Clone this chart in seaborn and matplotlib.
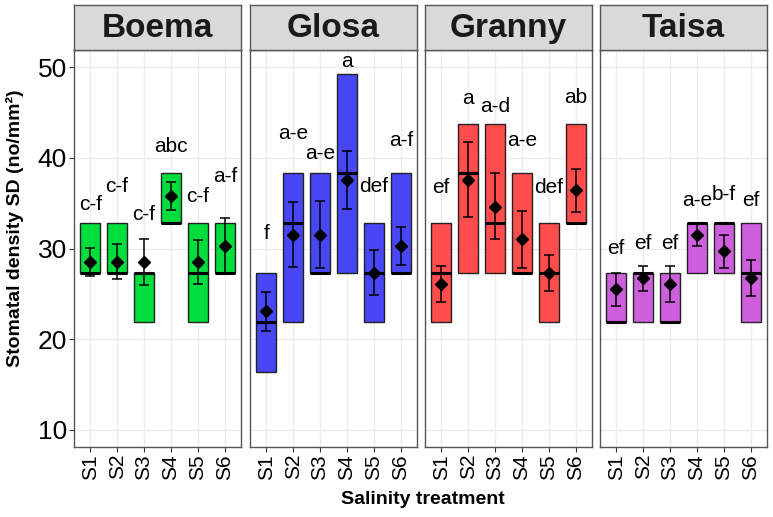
import numpy as np
import seaborn as sns
import matplotlib.pyplot as plt

# facet / category names
cultivars = ['Boema', 'Glosa', 'Granny', 'Taisa']
treatments = ['S1', 'S2', 'S3', 'S4', 'S5', 'S6']
colors = ['#00DD3C', '#4747F5', '#FF4C4C', '#CD5FDD']

# box limits (Q1, median, Q3) per cultivar, S1..S6
q1 = [[27.3, 27.3, 21.9, 32.8, 21.9, 27.3],
      [16.4, 21.9, 27.3, 27.3, 21.9, 27.3],
      [21.9, 27.3, 27.3, 27.3, 21.9, 32.8],
      [21.9, 21.9, 21.9, 27.3, 27.3, 21.9]]
median = [[27.3, 27.3, 27.3, 32.8, 27.3, 27.3],
          [21.9, 32.8, 27.3, 38.3, 27.3, 27.3],
          [27.3, 38.3, 32.8, 27.3, 27.3, 32.8],
          [21.9, 27.3, 21.9, 32.8, 32.8, 27.3]]
q3 = [[32.8, 32.8, 27.3, 38.3, 32.8, 32.8],
      [27.3, 38.3, 38.3, 49.2, 32.8, 38.3],
      [32.8, 43.7, 43.7, 38.3, 32.8, 43.7],
      [27.3, 27.3, 27.3, 32.8, 32.8, 32.8]]

# mean and error bar ends
mean = [[28.5, 28.5, 28.5, 35.8, 28.5, 30.3],
        [23.1, 31.5, 31.5, 37.6, 27.3, 30.3],
        [26.1, 37.6, 34.6, 31.0, 27.3, 36.4],
        [25.5, 26.7, 26.1, 31.5, 29.7, 26.7]]
err_lo = [[27.0, 26.6, 26.0, 34.2, 26.1, 27.3],
          [20.9, 28.0, 27.8, 34.4, 24.9, 28.2],
          [24.1, 33.5, 31.0, 27.8, 25.3, 34.0],
          [23.7, 25.3, 24.1, 30.3, 27.9, 24.8]]
err_hi = [[30.1, 30.5, 31.1, 37.3, 30.9, 33.4],
          [25.2, 35.1, 35.2, 40.8, 29.8, 32.4],
          [28.1, 41.7, 38.3, 34.1, 29.3, 38.8],
          [27.3, 28.1, 28.1, 32.8, 31.5, 28.7]]

# significance letters and their heights
letters = [['c-f', 'c-f', 'c-f', 'abc', 'c-f', 'a-f'],
           ['f', 'a-e', 'a-e', 'a', 'def', 'a-f'],
           ['ef', 'a', 'a-d', 'a-e', 'def', 'ab'],
           ['ef', 'ef', 'ef', 'a-e', 'b-f', 'ef']]
letter_y = [[34.9, 36.8, 33.8, 41.2, 35.7, 37.9],
            [31.6, 42.7, 40.5, 50.6, 36.8, 41.9],
            [36.7, 46.5, 45.7, 41.9, 36.7, 46.7],
            [30.0, 30.5, 30.5, 35.3, 36.0, 35.3]]

sns.set_theme(style='whitegrid')
plt.rcParams['font.family'] = ['Liberation Sans', 'DejaVu Sans']
plt.rcParams['text.color'] = 'black'

W, H = 773, 517
fig = plt.figure(figsize=(W / 100, H / 100), dpi=100)

panel_left = [74, 250, 425, 600]
panel_w = 167
panel_top, panel_bot = 50, 447
strip_top = 5
x = np.arange(len(treatments))

for i, cv in enumerate(cultivars):
    ax = fig.add_axes([panel_left[i] / W, (H - panel_bot) / H,
                       panel_w / W, (panel_bot - panel_top) / H])
    ax.set_facecolor('white')
    ax.grid(True, color='#EBEBEB', linewidth=0.9)
    ax.set_axisbelow(True)

    bottoms = np.array(q1[i])
    heights = np.array(q3[i]) - bottoms
    ax.bar(x, heights, bottom=bottoms, width=0.75, color=colors[i],
           edgecolor='#222222', linewidth=1.0, zorder=2)
    ax.hlines(median[i], x - 0.375, x + 0.375, color='black', linewidth=2.2, zorder=3)
    m = np.array(mean[i])
    ax.errorbar(x, m, yerr=[m - np.array(err_lo[i]), np.array(err_hi[i]) - m],
                fmt='D', color='black', markersize=6.5, elinewidth=1.1,
                capsize=3.8, capthick=1.1, zorder=4)
    for j, lab in enumerate(letters[i]):
        ax.text(x[j], letter_y[i][j], lab, ha='center', va='center',
                fontsize=15, color='black', zorder=5)

    ax.set_xlim(-0.6, 5.6)
    ax.set_ylim(8.1, 51.9)
    ax.set_yticks([10, 20, 30, 40, 50])
    ax.set_xticks(x)
    ax.set_xticklabels(treatments, rotation=90, fontsize=15)
    ax.tick_params(axis='both', length=3.5, width=0.8, color='#333333',
                   labelcolor='black', pad=1.5)
    ax.tick_params(axis='x', bottom=True)
    if i == 0:
        ax.tick_params(axis='y', left=True, labelsize=19)
    else:
        ax.tick_params(axis='y', left=False, labelleft=False)
    for sp in ax.spines.values():
        sp.set_color('#555555')
        sp.set_linewidth(1.0)

    # strip on top of the panel
    st = fig.add_axes([panel_left[i] / W, (H - panel_top) / H,
                       panel_w / W, (panel_top - strip_top) / H])
    st.set_facecolor('#D9D9D9')
    st.set_xticks([])
    st.set_yticks([])
    st.grid(False)
    for sp in st.spines.values():
        sp.set_color('#555555')
        sp.set_linewidth(1.0)
    st.text(0.5, 0.48, cv, ha='center', va='center', fontsize=24,
            fontweight='bold', color='#1A1A1A', transform=st.transAxes)

fig.text(423 / W, 1 - 500 / H, 'Salinity treatment', ha='center', va='center',
         fontsize=14, fontweight='bold')
fig.text(15 / W, 1 - 228 / H, 'Stomatal density SD (no/mm²)', ha='center',
         va='center', rotation=90, fontsize=14, fontweight='bold')

fig.savefig('out.png', dpi=100)
